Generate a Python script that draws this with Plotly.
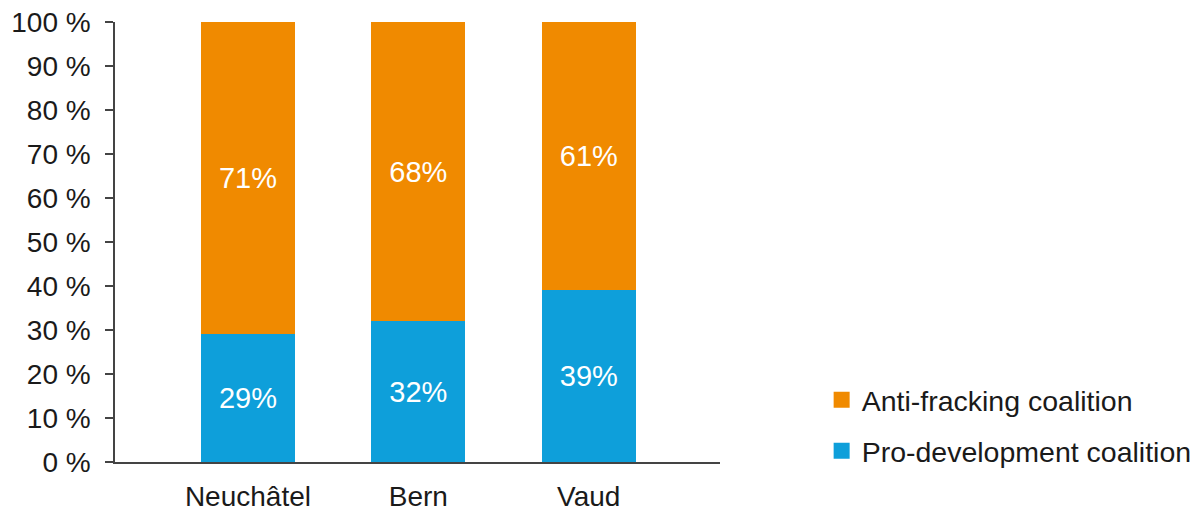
import plotly.graph_objects as go

cantons = ["Neuchâtel", "Bern", "Vaud"]
pro_development = [29, 32, 39]
anti_fracking = [71, 68, 61]
pro_labels = ["29%", "32%", "39%"]
anti_labels = ["71%", "68%", "61%"]

ORANGE = "#F08A00"
BLUE = "#0E9FDA"
FONT = "Liberation Sans, Arial, sans-serif"
TXT = "#1a1a1a"

fig = go.Figure()
fig.add_trace(go.Bar(x=cantons, y=pro_development, text=pro_labels, name="Pro-development coalition",
                     marker=dict(color=BLUE, line=dict(width=0)), showlegend=False,
                     textposition="inside", insidetextanchor="middle", constraintext="none",
                     textfont=dict(color="white", size=29, family=FONT), hoverinfo="skip"))
fig.add_trace(go.Bar(x=cantons, y=anti_fracking, text=anti_labels, name="Anti-fracking coalition",
                     marker=dict(color=ORANGE, line=dict(width=0)), showlegend=False,
                     textposition="inside", insidetextanchor="middle", constraintext="none",
                     textfont=dict(color="white", size=29, family=FONT), hoverinfo="skip"))
# legend proxies
fig.add_trace(go.Scatter(x=[None], y=[None], mode="markers", name="Anti-fracking coalition",
                         marker=dict(symbol="square", size=20, color=ORANGE), legendgroup="a"))
fig.add_trace(go.Scatter(x=[None], y=[None], mode="markers", name="Pro-development coalition",
                         marker=dict(symbol="square", size=20, color=BLUE), legendgroup="b"))

# page has an 8px body margin, so the figure is 1192x506 and offset by 8px
fig.update_layout(
    width=1192, height=506,
    barmode="stack", bargap=0.45,
    plot_bgcolor="white", paper_bgcolor="white",
    margin=dict(l=107, r=480, t=14, b=52, autoexpand=False),
    font=dict(family=FONT, color=TXT, size=28),
    legend=dict(x=1.168, xanchor="left", y=0.1985, yanchor="top",
                font=dict(size=28.5, color=TXT), tracegroupgap=11,
                itemsizing="trace", bgcolor="rgba(0,0,0,0)"),
    xaxis=dict(range=[-0.78, 2.77], showline=True, linecolor="#444", linewidth=1.5,
               ticks="", showgrid=False, zeroline=False, automargin=False,
               tickfont=dict(size=28, color=TXT), ticklabelstandoff=9),
    yaxis=dict(range=[0, 100], dtick=10, ticksuffix=" %", showline=True, linecolor="#444",
               linewidth=1.5, ticks="outside", ticklen=8, tickcolor="#444", tickwidth=1.5,
               showgrid=False, zeroline=False, automargin=False, ticklabeloverflow="allow",
               tickfont=dict(size=28, color=TXT), ticklabelstandoff=9),
)

fig.write_html("out.html")
